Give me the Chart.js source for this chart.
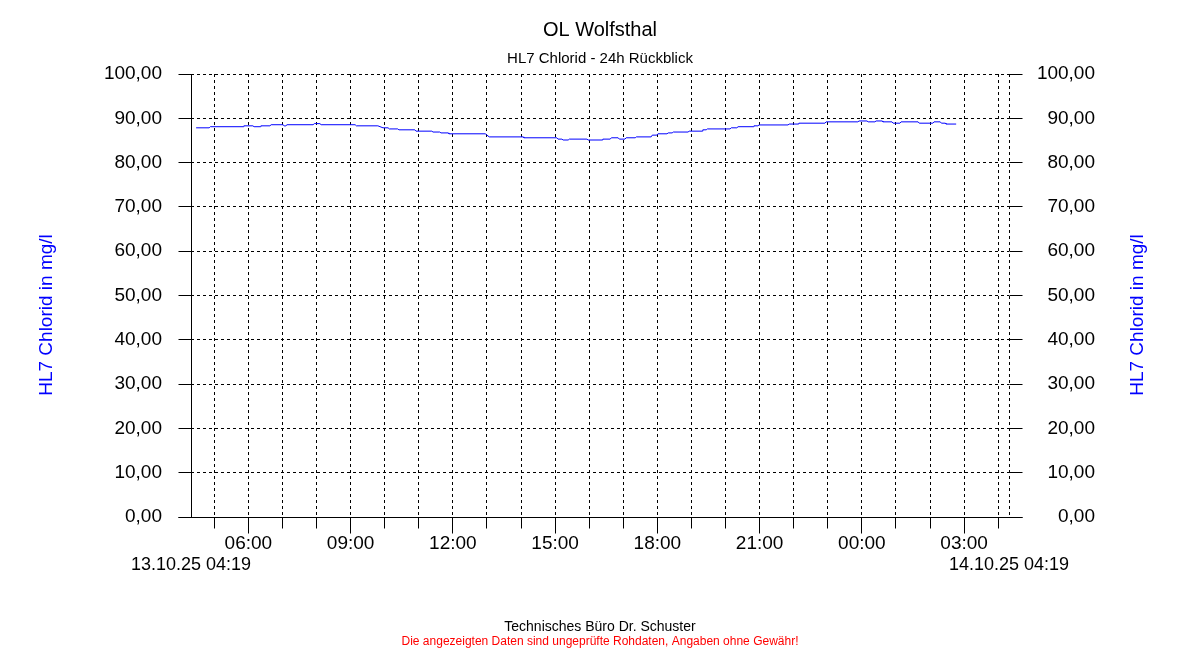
<!DOCTYPE html>
<html>
<head>
<meta charset="utf-8">
<script src="https://cdn.jsdelivr.net/npm/chart.js@4.4.1/dist/chart.umd.min.js"></script>
<style>
  html, body { margin: 0; padding: 0; background: #fff; }
  #wrap { width: 1200px; height: 650px; position: relative; }
</style>
</head>
<body>
<div id="wrap"><canvas id="c" width="1200" height="650"></canvas></div>
<script>
// ---- data ----
const titleText = 'OL Wolfsthal';
const subtitleText = 'HL7 Chlorid - 24h Rückblick';
const axisTitle = 'HL7 Chlorid in mg/l';
const footerText = 'Technisches Büro Dr. Schuster';
const disclaimerText = 'Die angezeigten Daten sind ungeprüfte Rohdaten, Angaben ohne Gewähr!';
const startLabel = '13.10.25 04:19';
const endLabel = '14.10.25 04:19';
const startClock = '04:19';

const times = [
  '04:28','04:51','04:53','05:51','05:52','06:08','06:10','06:21','06:22','06:38',
  '06:40','07:01','07:03','07:06','07:08','07:54','07:56','08:06','08:08','09:08',
  '09:10','09:48','09:57','10:06','10:08','10:23','10:25','10:53','10:55','11:23',
  '11:25','11:37','11:39','11:52','11:53','12:57','13:04','14:04','14:05','15:03',
  '15:05','15:12','15:14','15:23','15:25','15:56','15:58','16:23','16:24','16:37',
  '16:39','16:51','16:53','17:03','17:05','17:21','17:23','17:49','17:51','17:59',
  '18:01','18:17','18:19','18:26','18:28','18:54','18:56','19:19','19:20','19:26',
  '19:28','20:08','20:10','20:20','20:22','20:49','20:50','20:57','20:59','21:50',
  '21:52','22:08','22:09','22:55','22:57','23:53','23:55','00:09','00:11','00:23',
  '00:25','00:36','00:37','00:53','00:55','01:07','01:09','01:39','01:41','02:05',
  '02:07','02:18','02:20','02:27','02:28','02:46'
];
const chlorid = [
  87.85,87.85,88.1,88.1,88.3,88.3,88.1,88.1,88.3,88.3,
  88.55,88.55,88.3,88.3,88.55,88.55,88.8,88.8,88.55,88.55,
  88.3,88.3,87.85,87.85,87.6,87.6,87.4,87.4,87.1,87.1,
  86.9,86.9,86.7,86.7,86.5,86.5,85.8,85.8,85.6,85.6,
  85.3,85.3,85.1,85.1,85.3,85.3,85.1,85.1,85.3,85.3,
  85.6,85.6,85.3,85.3,85.6,85.6,85.8,85.8,86.2,86.2,
  86.5,86.5,86.7,86.7,86.9,86.9,87.1,87.1,87.4,87.4,
  87.6,87.6,87.85,87.85,88.1,88.1,88.3,88.3,88.5,88.5,
  88.7,88.7,88.9,88.9,89.2,89.2,89.4,89.4,89.2,89.2,
  89.4,89.4,89.2,89.2,88.9,88.9,89.2,89.2,88.9,88.9,
  89.2,89.2,88.9,88.9,88.7,88.7
];
const hourTicks = ['05:00','06:00','07:00','08:00','09:00','10:00','11:00','12:00',
  '13:00','14:00','15:00','16:00','17:00','18:00','19:00','20:00','21:00','22:00',
  '23:00','00:00','01:00','02:00','03:00','04:00'];
const labeledHours = ['06:00','09:00','12:00','15:00','18:00','21:00','00:00','03:00'];
const yMin = 0, yMax = 100, yStep = 10;

// ---- helpers ----
const FONT = '"Liberation Sans", Arial, sans-serif';
function toMin(s) { const [h, m] = s.split(':').map(Number); return h * 60 + m; }
const startMin = toMin(startClock);
function offset(s) { let d = toMin(s) - startMin; if (d < 0) d += 1440; return d; }
const points = times.map((t, i) => ({ x: offset(t), y: chlorid[i] }));
const tickValues = [0, ...hourTicks.map(offset), 1440];
const labelMap = {};
labeledHours.forEach(h => labelMap[offset(h)] = h);
const fmt = v => Number(v).toFixed(2).replace('.', ',');
const align = p => Math.round(p - 0.5) + 0.5;

const decor = {
  id: 'decor',
  afterDraw(chart) {
    const { ctx, chartArea: a, scales } = chart;
    const xs = scales.x, ys = scales.y;
    ctx.save();
    ctx.setLineDash([]);
    ctx.strokeStyle = '#000';
    ctx.lineWidth = 1;
    ctx.beginPath();
    const L = align(a.left), R = align(a.right), B = align(a.bottom);
    // solid axes
    ctx.moveTo(L, a.top); ctx.lineTo(L, B);
    ctx.moveTo(L - 13, B); ctx.lineTo(R + 13, B);
    // y tick marks both sides
    ys.ticks.forEach(t => {
      const py = align(ys.getPixelForValue(t.value));
      ctx.moveTo(L - 13, py); ctx.lineTo(L, py);
      ctx.moveTo(R, py); ctx.lineTo(R + 13, py);
    });
    // x tick marks
    xs.ticks.forEach(t => {
      if (t.value === 0 || t.value === 1440) return;
      const px = align(xs.getPixelForValue(t.value));
      const len = labelMap[t.value] ? 16 : 11;
      ctx.moveTo(px, B); ctx.lineTo(px, B + len);
    });
    ctx.stroke();

    // texts
    ctx.textAlign = 'center';
    ctx.textBaseline = 'middle';
    ctx.fillStyle = '#000';
    ctx.font = '20px ' + FONT;
    ctx.fillText(titleText, 600, 30);
    ctx.font = '15px ' + FONT;
    ctx.fillText(subtitleText, 600, 59);
    ctx.font = '14px ' + FONT;
    ctx.fillText(footerText, 600, 627);
    ctx.fillStyle = '#ff0000';
    ctx.font = '12px ' + FONT;
    ctx.fillText(disclaimerText, 600, 642);

    ctx.fillStyle = '#0000ff';
    ctx.font = '19px ' + FONT;
    [47, 1138].forEach(cx => {
      ctx.save();
      ctx.translate(cx, 315);
      ctx.rotate(-Math.PI / 2);
      ctx.fillText(axisTitle, 0, 0);
      ctx.restore();
    });
    ctx.restore();
  }
};

new Chart(document.getElementById('c'), {
  type: 'line',
  data: {
    datasets: [{
      data: points,
      borderColor: '#0000ff',
      borderWidth: 1,
      pointRadius: 0,
      tension: 0,
      fill: false
    }]
  },
  options: {
    responsive: false,
    animation: false,
    events: [],
    layout: { padding: { top: 74, left: 0, right: 105, bottom: 0 } },
    plugins: { legend: { display: false }, tooltip: { enabled: false }, title: { display: false } },
    scales: {
      x: {
        type: 'linear',
        position: 'bottom',
        min: 0, max: 1440,
        afterFit: s => { s.height = 133; },
        afterBuildTicks: s => { s.ticks = tickValues.map(v => ({ value: v })); },
        grid: { color: '#000', lineWidth: 1, drawTicks: false, borderDash: [3, 3] },
        border: { display: false, dash: [3, 3] },
        ticks: {
          autoSkip: false, maxRotation: 0, minRotation: 0,
          padding: 16.5,
          color: '#000',
          font: ctx => {
            const v = ctx.tick ? ctx.tick.value : null;
            if (v === 0 || v === 1440) return { family: FONT, size: 18, lineHeight: 21 / 18 };
            return { family: FONT, size: 19, lineHeight: 1.1 };
          },
          callback: v => {
            if (v === 0) return ['', startLabel];
            if (v === 1440) return ['', endLabel];
            return labelMap[v] || '';
          }
        }
      },
      y: {
        position: 'left',
        min: yMin, max: yMax,
        afterFit: s => { s.width = 191; },
        grid: { color: '#000', lineWidth: 1, drawTicks: false, borderDash: [3, 3] },
        border: { display: false, dash: [3, 3] },
        ticks: { stepSize: yStep, padding: 29, color: '#000', font: { family: FONT, size: 19 }, callback: fmt }
      },
      y2: {
        position: 'right',
        min: yMin, max: yMax,
        afterFit: s => { s.width = 86; },
        grid: { drawOnChartArea: false, drawTicks: false },
        border: { display: false },
        ticks: { stepSize: yStep, padding: 28, crossAlign: 'far', color: '#000', font: { family: FONT, size: 19 }, callback: fmt }
      }
    }
  },
  plugins: [decor]
});
</script>
</body>
</html>
